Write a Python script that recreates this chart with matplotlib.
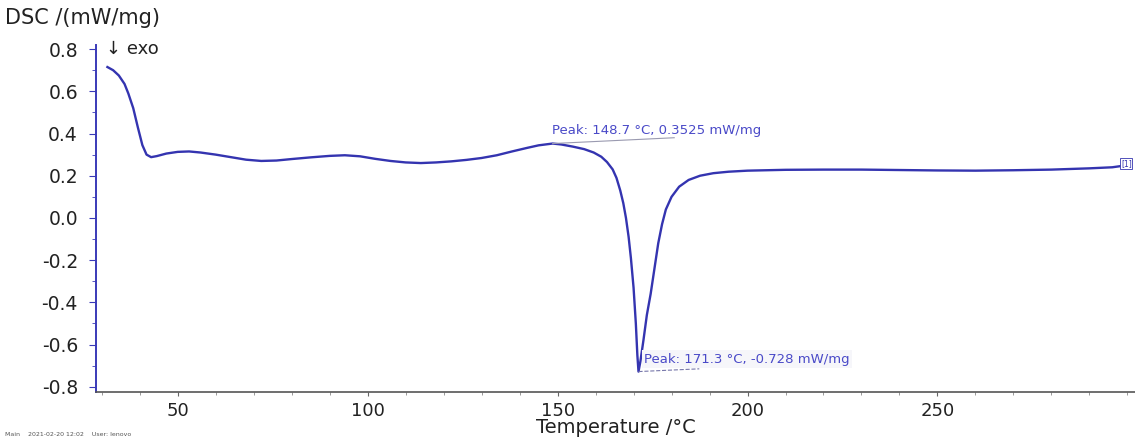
import matplotlib
matplotlib.use("Agg")
import matplotlib.pyplot as plt
from matplotlib.ticker import MultipleLocator

plt.rcParams['font.family'] = ['DejaVu Sans']

temperature = [31.5, 33, 34.5, 36, 37, 38.3, 39.5, 40.7, 41.8, 43, 44.5, 47, 50, 53, 56, 60,
               64, 68, 72, 76, 80, 85, 90, 94, 98, 102, 106, 110, 114, 118, 122, 126, 130,
               134, 138, 142, 145, 148.7, 151, 154, 157, 159.5, 161.5, 163, 164.5, 165.5,
               166.5, 167.3, 168, 168.7, 169.3, 170, 170.6, 171.0, 171.3, 171.8, 172.6,
               173.5, 174.5, 175.5, 176.5, 177.5, 178.5, 180, 182, 184.5, 187.5, 191, 195,
               200, 210, 220, 230, 240, 250, 260, 270, 280, 290, 296, 300]
dsc = [0.715, 0.70, 0.675, 0.635, 0.59, 0.52, 0.43, 0.345, 0.30, 0.288, 0.293, 0.305, 0.313,
       0.315, 0.31, 0.30, 0.288, 0.276, 0.27, 0.272, 0.279, 0.287, 0.294, 0.297, 0.292, 0.28,
       0.27, 0.263, 0.26, 0.263, 0.268, 0.275, 0.284, 0.297, 0.315, 0.332, 0.344, 0.3525,
       0.348, 0.338, 0.326, 0.31, 0.29, 0.265, 0.23, 0.19, 0.13, 0.07, 0.0, -0.09, -0.19,
       -0.33, -0.50, -0.65, -0.728, -0.68, -0.58, -0.46, -0.36, -0.24, -0.12, -0.03, 0.04,
       0.10, 0.148, 0.18, 0.20, 0.212, 0.219, 0.224, 0.228, 0.229, 0.229, 0.227, 0.225,
       0.224, 0.226, 0.229, 0.235, 0.24, 0.25]

peak1 = (148.7, 0.3525)
peak2 = (171.3, -0.728)
peak1_label = "Peak: 148.7 °C, 0.3525 mW/mg"
peak2_label = "Peak: 171.3 °C, -0.728 mW/mg"

x_ticks = [50, 100, 150, 200, 250]
y_ticks = [0.8, 0.6, 0.4, 0.2, 0.0, -0.2, -0.4, -0.6, -0.8]

curve_color = '#3434b0'
text_blue = '#4a4ac8'

fig = plt.figure(figsize=(11.35, 4.4), dpi=100)
ax = fig.add_axes([0.0846, 0.109, 0.9154, 0.789])
ax.plot(temperature, dsc, color=curve_color, lw=1.7)

ax.set_xlim(28.5, 302)
ax.set_ylim(-0.825, 0.82)
ax.set_xticks(x_ticks)
ax.set_yticks(y_ticks)
ax.set_yticklabels([f"{v:.1f}" for v in y_ticks])
ax.xaxis.set_minor_locator(MultipleLocator(10))
ax.yaxis.set_minor_locator(MultipleLocator(0.1))

for s in ['top', 'right']:
    ax.spines[s].set_visible(False)
ax.spines['left'].set_color('#3a3ab8')
ax.spines['left'].set_linewidth(1.4)
ax.spines['bottom'].set_color('#555555')
ax.spines['bottom'].set_linewidth(1.2)
ax.tick_params(axis='y', which='major', length=5, color='#3a3ab8', labelsize=13.5,
               labelcolor='#222222', pad=8)
ax.tick_params(axis='y', which='minor', length=3, color='#3a3ab8')
ax.tick_params(axis='x', which='major', length=3, color='#666666', labelsize=13,
               labelcolor='#222222', pad=4)
ax.tick_params(axis='x', which='minor', length=2, color='#888888')

fig.text(0.004, 0.96, "DSC /(mW/mg)", fontsize=15, color='#222222', va='center', ha='left')
fig.text(0.093, 0.888, "↓ exo", fontsize=13, color='#222222', va='center', ha='left')
ax.set_xlabel("Temperature /°C", fontsize=14, color='#222222', labelpad=-1)
fig.text(0.004, 0.013, "Main    2021-02-20 12:02    User: lenovo", fontsize=4.5,
         color='#555555', va='center', ha='left')

# peak annotations
ax.annotate(peak1_label, xy=peak1, xytext=(peak1[0] - 0.2, 0.415), fontsize=9.5,
            color=text_blue, ha='left', va='center')
ax.plot([peak1[0], peak1[0] + 32], [peak1[1], 0.38], color='#9a9ab0', lw=0.8)
ax.annotate(peak2_label, xy=peak2, xytext=(peak2[0] + 1.5, -0.67), fontsize=9.5,
            color=text_blue, ha='left', va='center',
            bbox=dict(boxstyle='square,pad=0.2', fc='#f6f6fa', ec='none'))
ax.plot([peak2[0], peak2[0] + 16], [peak2[1], -0.715], color='#7777aa', lw=0.8, ls='--')

ax.text(298.3, 0.258, "[1]", fontsize=5.5, color='#3434b0', ha='left', va='center',
        bbox=dict(boxstyle='square,pad=0.1', fc='white', ec='#3434b0', lw=0.6),
        clip_on=False)

fig.savefig("out.png", dpi=100)
